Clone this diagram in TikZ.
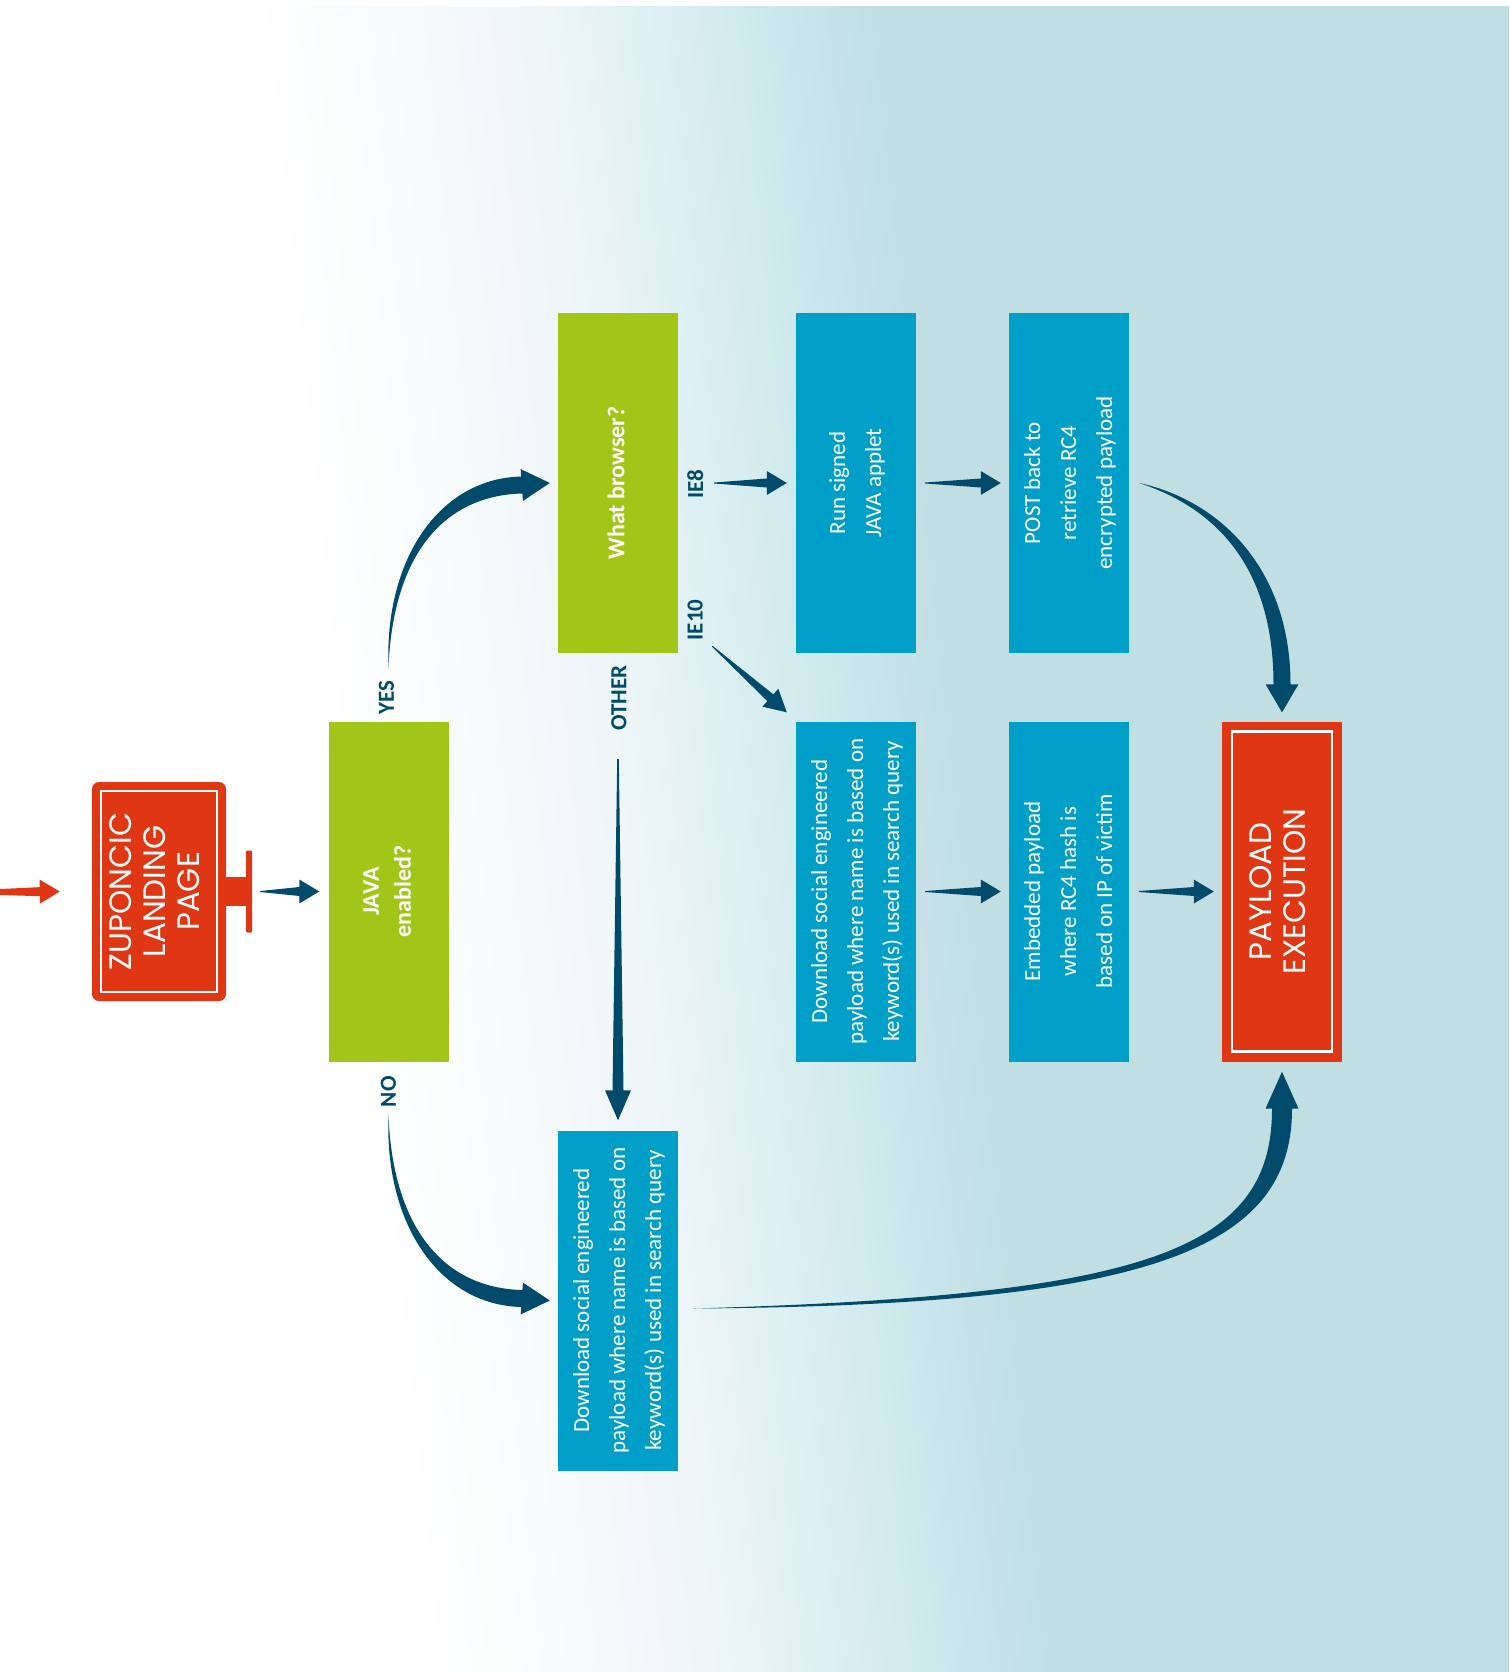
\documentclass[tikz,border=0pt]{standalone}
\usepackage{fontspec}
\setmainfont{Carlito}
\newfontfamily\titlefont{Poppins}
\usepackage{graphicx}
\usetikzlibrary{calc}
\definecolor{javagreen}{RGB}{162,198,23}
\definecolor{stepblue}{RGB}{0,159,200}
\definecolor{alertred}{RGB}{223,54,20}
\definecolor{arrownavy}{RGB}{0,74,107}
\definecolor{bgteal}{RGB}{193,222,226}
\definecolor{bgcyan}{RGB}{209,235,239}
\definecolor{bglight}{RGB}{239,246,248}

% path is mapped onto 25bp..75bp of the shading
\pgfdeclarehorizontalshading{bgshade}{100bp}{color(0bp)=(white); color(41.1bp)=(white);
  color(47.2bp)=(bglight); color(51.5bp)=(bgcyan); color(54.6bp)=(bgteal); color(100bp)=(bgteal)}

% rotated multi-line box text
\newcommand{\vtext}[1]{\rotatebox{90}{\begin{tabular}{@{}c@{}}#1\end{tabular}}}

% straight tapered arrow: [colour]{tail}{tip}{head length}{head half}{shaft half}{tail half}
\newcommand{\flowarrow}[7][arrownavy]{%
  \coordinate (fa-t) at (#2);
  \coordinate (fa-p) at (#3);
  \coordinate (fa-b) at ($(fa-p)!#4!(fa-t)$);
  \fill[#1] ($(fa-t)!#7!90:(fa-p)$) -- ($(fa-b)!#6!90:(fa-p)$) -- ($(fa-b)!#5!90:(fa-p)$)
    -- (fa-p) -- ($(fa-b)!#5!-90:(fa-p)$) -- ($(fa-b)!#6!-90:(fa-p)$)
    -- ($(fa-t)!#7!-90:(fa-p)$) -- cycle;}

% curved tapered arrow: [colour]{start}{control 1}{control 2}{head base}{tip}{shaft half}{head half}
\newcommand{\bendarrow}[8][arrownavy]{%
  \coordinate (ba-0) at (#2);
  \coordinate (ba-1) at (#3);
  \coordinate (ba-2) at (#4);
  \coordinate (ba-3) at (#5);
  \coordinate (ba-p) at (#6);
  \coordinate (ba-m) at ($(ba-0)!#7!90:(ba-1)$);
  \coordinate (ba-n) at ($(ba-3)!#7!90:(ba-p)$);
  \coordinate (ba-s) at ($(ba-3)!#7!-90:(ba-p)$);
  \fill[#1] (ba-0) .. controls ($(ba-1)+0.5*(ba-m)-0.5*(ba-0)$) and ($(ba-2)+(ba-n)-(ba-3)$) .. (ba-n)
    -- ($(ba-3)!#8!90:(ba-p)$) -- (ba-p) -- ($(ba-3)!#8!-90:(ba-p)$) -- (ba-s)
    .. controls ($(ba-2)+(ba-s)-(ba-3)$) and ($(ba-1)-0.5*(ba-m)+0.5*(ba-0)$) .. (ba-0) -- cycle;}

\tikzset{
  stepbox/.style={fill=stepblue, text=white, minimum width=120pt, minimum height=340pt,
    inner sep=0pt, font=\fontsize{23}{36}\selectfont},
  askbox/.style={stepbox, fill=javagreen, font=\bfseries\fontsize{24}{32}\selectfont},
  endbox/.style={stepbox, fill=alertred, font=\titlefont\fontsize{31}{34}\selectfont},
  lbl/.style={text=arrownavy, inner sep=0pt, font=\bfseries\fontsize{23}{26}\selectfont},
}

\begin{document}
\begin{tikzpicture}[x=1pt, y=-1pt]
  % Canvas and background
  \useasboundingbox (0,0) rectangle (1509,1672);
  \fill[white] (0,0) rectangle (1509,1672);
  \begin{scope}
    \clip (0,7) rectangle (1509,1672);
    \shade[shading=bgshade, transform canvas={rotate around={6:(754,840)}}] (-400,-400) rectangle (1900,2100);
  \end{scope}

  % Landing page
  \node[endbox, rounded corners=7pt, minimum width=134pt, minimum height=219pt] (landing) at (159,891.5)
    {\vtext{ZUPONCIC\\LANDING\\PAGE}};
  \draw[white, line width=2.5pt] ($(landing.south west)+(9,-9)$) rectangle ($(landing.north east)+(-9,9)$);
  \fill[alertred] ($(landing.east)+(-2,-14.5)$) rectangle ($(landing.east)+(22,14.5)$);
  \fill[alertred, rounded corners=1pt] ($(landing.east)+(20,-41)$) rectangle ($(landing.east)+(26,41)$);

  % Decisions
  \node[askbox] (java) at (388.5,891.5) {\vtext{JAVA\\enabled?}};
  \node[askbox] (browser) at (618,483) {\vtext{What browser?}};

  % Steps
  \node[stepbox] (run) at (856,483) {\vtext{Run signed\\JAVA applet}};
  \node[stepbox] (post) at (1069,483) {\vtext{POST back to\\retrieve RC4\\encrypted payload}};
  \node[stepbox] (dlie) at (856,891.5)
    {\vtext{Download social engineered\\payload where name is based on\\keyword(s) used in search query}};
  \node[stepbox] (embed) at (1069,891.5) {\vtext{Embedded payload\\where RC4 hash is\\based on IP of victim}};
  \node[stepbox] (dlother) at (618,1300.5)
    {\vtext{Download social engineered\\payload where name is based on\\keyword(s) used in search query}};

  % Payload execution
  \node[endbox] (payload) at (1282,891.5) {\vtext{PAYLOAD\\EXECUTION}};
  \draw[white, line width=2.5pt] ($(payload.south west)+(10,-10)$) rectangle ($(payload.north east)+(-10,10)$);

  % Branch labels
  \node[lbl, rotate=90] (yes) at ($(java.north)+(-2,-24)$) {YES};
  \node[lbl, rotate=90] (no) at ($(java.south)+(0,30)$) {NO};
  \node[lbl, rotate=90] (ie8) at ($(browser.east)+(17,1)$) {IE8};
  \node[lbl, rotate=90] (ie10) at ($(browser.east)+(17,137)$) {IE10};
  \node[lbl, rotate=90] (other) at ($(browser.south)+(1,45)$) {OTHER};

  % Straight connectors
  \coordinate (entry) at (0,892);
  \flowarrow[alertred]{entry}{$(landing.west)+(-32,0)$}{20pt}{12pt}{4.5pt}{3pt}
  \flowarrow{$(landing.east)+(34,0)$}{$(java.west)+(-9,0)$}{20pt}{12pt}{4.5pt}{0.5pt}
  \flowarrow{$(browser.east)+(36,0)$}{$(run.west)+(-9,0)$}{20pt}{12pt}{4.5pt}{0.5pt}
  \flowarrow{$(browser.south east)+(34,-7)$}{$(dlie.north west)+(-9,-9)$}{22pt}{12pt}{4.5pt}{0.5pt}
  \flowarrow{$(run.east)+(9,0)$}{$(post.west)+(-8,0)$}{20pt}{12pt}{4.5pt}{0.5pt}
  \flowarrow{$(dlie.east)+(9,0)$}{$(embed.west)+(-8,0)$}{20pt}{12pt}{4.5pt}{0.5pt}
  \flowarrow{$(embed.east)+(10,0)$}{$(payload.west)+(-8,0)$}{20pt}{12pt}{4.5pt}{0.5pt}
  \flowarrow{$(browser.south)+(0,106)$}{$(dlother.north)+(0,-10)$}{30pt}{13pt}{5.5pt}{0.8pt}

  % Curved connectors
  \bendarrow{$(java.north)+(0,-54)$}{$(java.north)+(0,-162)$}{$(browser.west)+(-118,4)$}{$(browser.west)+(-36,2)$}{$(browser.west)+(-8,0)$}{8.5pt}{16pt}
  \bendarrow{$(java.south)+(0,54)$}{$(java.south)+(0,162)$}{$(dlother.west)+(-118,-4)$}{$(dlother.west)+(-36,-2)$}{$(dlother.west)+(-8,0)$}{8.5pt}{16pt}
  \bendarrow{$(post.east)+(10,0)$}{$(post.east)+(91,22)$}{$(payload.north)+(0,-151)$}{$(payload.north)+(0,-37)$}{$(payload.north)+(0,-9)$}{8.5pt}{16.5pt}
  \bendarrow{$(dlother.east)+(15,8)$}{$(dlother.east)+(472,0)$}{$(payload.south)+(0,188)$}{$(payload.south)+(0,47)$}{$(payload.south)+(0,10)$}{10pt}{16.5pt}
\end{tikzpicture}
\end{document}
